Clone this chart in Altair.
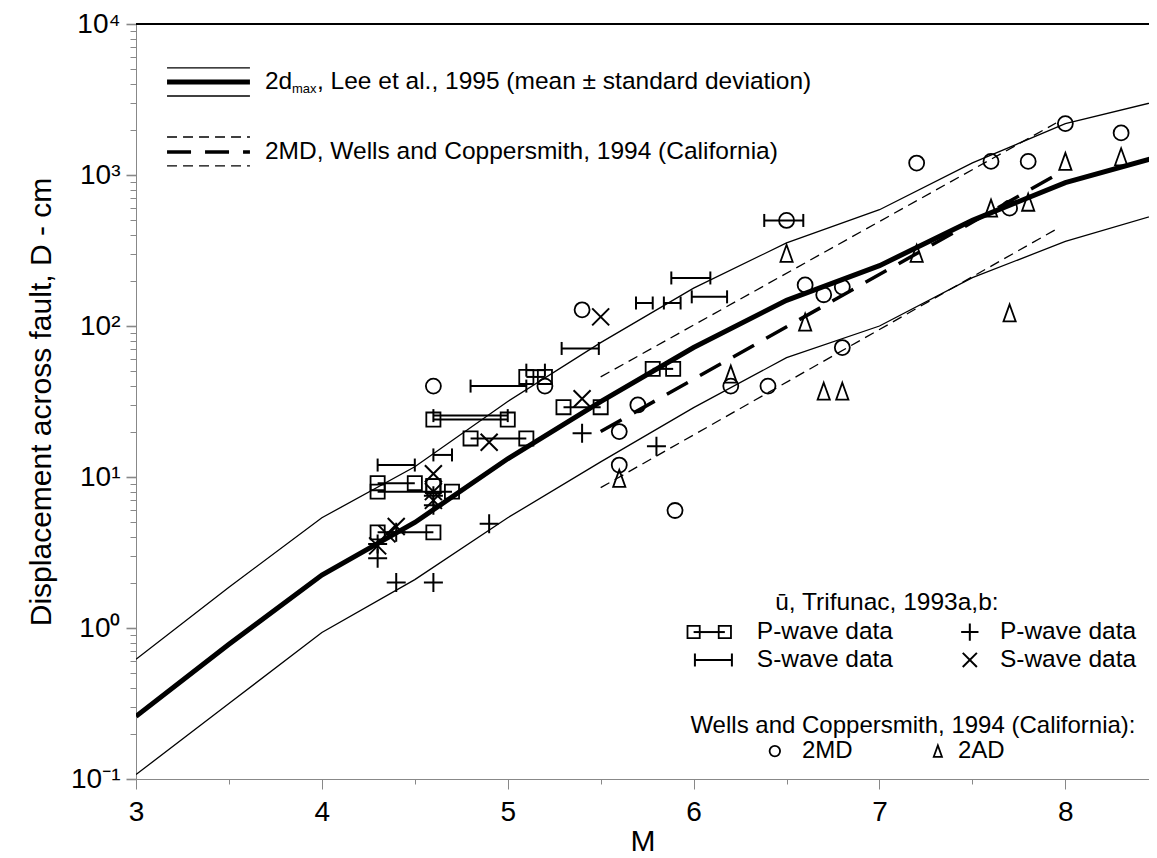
import altair as alt
import pandas as pd

FONT = "Liberation Sans"

# ---------------- data ----------------
# Lee et al. (1995) 2*d_max : mean and mean +/- one standard deviation
lee_m = [3.0, 3.5, 4.0, 4.5, 5.0, 5.5, 6.0, 6.5, 7.0, 7.5, 8.0, 8.5]
lee_mean = [0.26, 0.78, 2.24, 5.0, 13.2, 31.6, 72, 148, 251, 501, 891, 1318]
lee_upper = [0.62, 1.86, 5.37, 11.7, 31.6, 77.6, 178, 355, 589, 1202, 2188, 3090]
lee_lower = [0.107, 0.316, 0.933, 2.09, 5.37, 12.6, 28.8, 61.7, 100, 209, 363, 550]

# Wells & Coppersmith (1994) 2MD regression (California), mean +/- sd
wc_m = [5.5, 7.95]
wc_mean = [20, 1000]
wc_upper = [46, 2210]
wc_lower = [8.5, 437]

# Wells & Coppersmith data points
md_m = [4.6, 5.2, 5.4, 5.6, 5.6, 5.7, 5.9, 6.2, 6.4, 6.5, 6.6, 6.7, 6.8, 6.8, 7.2, 7.6, 7.7, 7.8, 8.0, 8.3]
md_d = [40, 40, 128, 20, 12, 30, 6, 40, 40, 500, 187, 161, 181, 72, 1200, 1230, 603, 1230, 2190, 1900]
ad_m = [5.6, 6.2, 6.5, 6.6, 6.7, 6.8, 7.2, 7.6, 7.7, 7.8, 8.0, 8.3]
ad_d = [9.8, 48, 303, 106, 37, 37, 303, 603, 122, 660, 1230, 1320]

# Trifunac (1993a,b) u-bar : P-wave ranges (square ends)
pr_m1 = [4.3, 4.3, 4.6, 4.3, 4.6, 4.8, 5.1, 5.3, 5.78]
pr_m2 = [4.5, 4.7, 4.6, 4.6, 5.0, 5.1, 5.2, 5.5, 5.89]
pr_d = [9.1, 8.0, 8.7, 4.3, 24, 18, 46, 29, 52]
# S-wave ranges (capped bars)
sr_m1 = [4.3, 4.6, 4.6, 4.8, 5.1, 5.29, 5.69, 5.84, 5.88, 5.99, 6.38]
sr_m2 = [4.5, 4.7, 5.0, 5.1, 5.2, 5.49, 5.78, 5.93, 6.09, 6.18, 6.59]
sr_d = [12, 14, 25.5, 40, 51, 71, 142, 142, 208, 156, 500]
# single P-wave (+) and S-wave (x) values
pp_m = [4.3, 4.3, 4.4, 4.4, 4.6, 4.6, 4.6, 4.9, 5.4, 5.8]
pp_d = [2.9, 3.6, 2.0, 4.3, 2.0, 6.5, 7.5, 4.9, 19.5, 16]
sx_m = [4.3, 4.35, 4.4, 4.6, 4.6, 4.6, 4.9, 5.4, 5.5]
sx_d = [3.5, 4.2, 4.7, 10.5, 8.0, 7.0, 17, 33, 115]

# legend texts
lee_label = ", Lee et al., 1995 (mean \u00b1 standard deviation)"
wc_label = "2MD, Wells and Coppersmith, 1994 (California)"
trif_title = "\u016b, Trifunac, 1993a,b:"
wells_title = "Wells and Coppersmith, 1994 (California):"

# ---------------- scales / axes ----------------
xs = alt.Scale(domain=[3, 8.45], nice=False, zero=False)
ys = alt.Scale(type="log", domain=[0.1, 10000], nice=False)

x_ticks = [3, 3.5, 4, 4.5, 5, 5.5, 6, 6.5, 7, 7.5, 8]
y_ticks = []
for dec in [0.1, 1, 10, 100, 1000]:
    for k in range(1, 10):
        y_ticks.append(round(dec * k, 6))
y_ticks.append(10000)

MAJ = "indexof([0.1,1,10,100,1000,10000], datum.value) >= 0"

xaxis = alt.Axis(
    values=x_ticks, title="M", grid=False,
    labelExpr="datum.value % 1 == 0 ? format(datum.value, 'd') : ''",
    tickSize={"condition": {"test": "datum.value % 1 != 0", "value": 5}, "value": 10},
    labelFontSize=28, titleFontSize=30, labelPadding=9, titlePadding=0,
    titleFontWeight="normal", labelFlush=False, labelOverlap=False,
)
yaxis = alt.Axis(
    values=y_ticks, title="Displacement across fault, D - cm", grid=False,
    labelExpr=("datum.value == 10000 ? '10\u2074' : datum.value == 1000 ? '10\u00b3' : "
               "datum.value == 100 ? '10\u00b2' : datum.value == 10 ? '10\u00b9' : "
               "datum.value == 1 ? '10\u2070' : datum.value == 0.1 ? '10\u207b\u00b9' : ''"),
    tickSize={"condition": {"test": MAJ, "value": 10}, "value": 6},
    tickWidth={"condition": {"test": MAJ, "value": 1.6}, "value": 1},
    labelFontSize=28, titleFontSize=30, labelPadding=6, titlePadding=14,
    titleFontWeight="normal", labelOverlap=False,
)


def X():
    return alt.X("M:Q", scale=xs, axis=xaxis)


def Y():
    return alt.Y("D:Q", scale=ys, axis=yaxis)


def line(m, d, width, dash=None):
    kw = dict(color="black", strokeWidth=width, clip=True)
    if dash:
        kw["strokeDash"] = dash
    return alt.Chart(pd.DataFrame({"M": m, "D": d})).mark_line(**kw).encode(x=X(), y=Y())


def pts(m, d, shape, size, sw=1.8):
    return alt.Chart(pd.DataFrame({"M": m, "D": d})).mark_point(
        shape=shape, size=size, filled=False, color="black", strokeWidth=sw, opacity=1
    ).encode(x=X(), y=Y())


def rng(m1, m2, d, sw=2):
    return alt.Chart(pd.DataFrame({"M": m1, "M2": m2, "D": d})).mark_rule(
        color="black", strokeWidth=sw
    ).encode(x=X(), x2="M2:Q", y=Y())


def text(m, d, s, size=24.5, align="left", dx=0, dy=0):
    return alt.Chart(pd.DataFrame({"M": [m], "D": [d], "t": [s]})).mark_text(
        align=align, baseline="middle", fontSize=size, font=FONT, color="black", dx=dx, dy=dy
    ).encode(x=X(), y=Y(), text="t:N")


CIRCLE = "circle"
SQUARE = "square"
TRI = "M0,-1L0.72,1L-0.72,1Z"
PLUS = "M-1,0H1M0,-1V1"
CROSS = "M-1,-1L1,1M-1,1L1,-1"
CAP = "M0,-1V1"

layers = []
# Lee curves
layers.append(line(lee_m, lee_upper, 1.3))
layers.append(line(lee_m, lee_lower, 1.3))
layers.append(line(lee_m, lee_mean, 5))
# Wells & Coppersmith regression
layers.append(line(wc_m, wc_upper, 1.3, [10, 6]))
layers.append(line(wc_m, wc_lower, 1.3, [10, 6]))
layers.append(line(wc_m, wc_mean, 3.5, [24, 14]))

# Trifunac ranges
layers.append(rng(pr_m1, pr_m2, pr_d))
layers.append(pts(pr_m1 + pr_m2, pr_d + pr_d, SQUARE, 200))
layers.append(rng(sr_m1, sr_m2, sr_d))
layers.append(pts(sr_m1 + sr_m2, sr_d + sr_d, CAP, 169, 2))
layers.append(pts(pp_m, pp_d, PLUS, 361, 2))
layers.append(pts(sx_m, sx_d, CROSS, 289, 2))
# Wells & Coppersmith points
layers.append(pts(md_m, md_d, CIRCLE, 225))
layers.append(pts(ad_m, ad_d, TRI, 289))

# top frame line
layers.append(rng([3.0], [8.45], [10000], 2))

# ---- top-left legend ----
lg_m1, lg_m2 = 3.167, 3.613
layers.append(rng([lg_m1, lg_m1], [lg_m2, lg_m2], [5117, 3336], 1.3))
layers.append(rng([lg_m1], [lg_m2], [4130], 5))
layers.append(line([lg_m1, lg_m2], [1785, 1785], 1.3, [10, 6]))
layers.append(line([lg_m1, lg_m2], [1148, 1148], 1.3, [10, 6]))
layers.append(line([lg_m1, lg_m2], [1420, 1420], 3.5, [24, 14]))
layers.append(text(3.694, 4130, "2d"))
layers.append(text(3.694, 4130, "max", size=13, dx=27, dy=7))
layers.append(text(3.694, 4130, lee_label, dx=52))
layers.append(text(3.694, 1420, wc_label))

# ---- lower-right legend ----
layers.append(text(7.04, 1.47, trif_title, align="center"))
layers.append(rng([6.0], [6.168], [0.94]))
layers.append(pts([6.0, 6.168], [0.94, 0.94], SQUARE, 150))
layers.append(text(6.34, 0.94, "P-wave data"))
layers.append(rng([6.007], [6.206], [0.614]))
layers.append(pts([6.007, 6.206], [0.614, 0.614], CAP, 169, 2))
layers.append(text(6.34, 0.614, "S-wave data"))
layers.append(pts([7.486], [0.94], PLUS, 300, 2))
layers.append(text(7.648, 0.94, "P-wave data"))
layers.append(pts([7.486], [0.614], CROSS, 200, 2))
layers.append(text(7.648, 0.614, "S-wave data"))
layers.append(text(7.18, 0.225, wells_title, align="center", size=24))
layers.append(pts([6.437], [0.153], CIRCLE, 110))
layers.append(text(6.583, 0.153, "2MD", size=24))
layers.append(pts([7.314], [0.153], TRI, 130))
layers.append(text(7.422, 0.153, "2AD", size=24))

chart = alt.layer(*layers).properties(
    width=1013, height=755,
    padding={"left": 128, "top": 16, "right": 0, "bottom": 78},
    autosize=alt.AutoSizeParams(type="none"),
).configure_view(stroke=None).configure_axis(
    labelFont=FONT, titleFont=FONT, labelColor="black", titleColor="black",
    domainColor="black", tickColor="black", domainWidth=2, titleFontWeight="normal",
).configure(background="white")

chart.save("out.html", embed_options={"renderer": "svg", "actions": False})
